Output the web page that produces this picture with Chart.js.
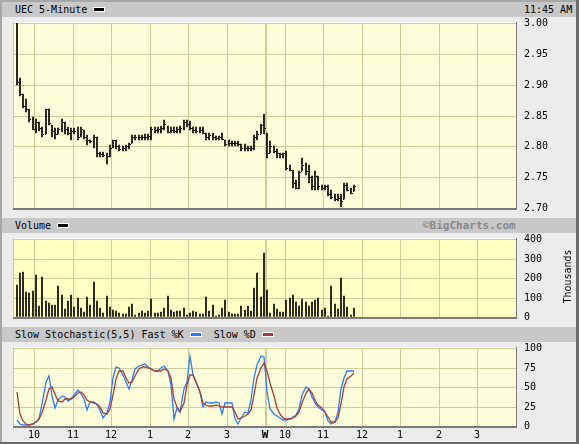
<!DOCTYPE html>
<html>
<head>
<meta charset="utf-8">
<script src="https://cdn.jsdelivr.net/npm/chart.js@4.4.1/dist/chart.umd.min.js"></script>
<style>
  body { margin: 0; background: #fff; }
  #frame { position: relative; width: 579px; height: 444px; background: #ececec; overflow: hidden;
           font-family: "DejaVu Sans Mono", monospace; font-size: 10px; color: #000; }
  .hdr { position: absolute; left: 2px; width: 574px; height: 15px; line-height: 15px; background: #c8c8c8; }
  .hdr span.t { position: absolute; top: 0; white-space: pre; }
  .sw { display: inline-block; width: 10px; height: 3px; border: 1px solid #fff; vertical-align: middle; margin-top: -2px; }
  canvas { position: absolute; left: 0; }
  .edge { position: absolute; }
  #thousands { position: absolute; left: 537px; top: 271px; width: 60px; text-align: center; transform: rotate(-90deg); }
</style>
</head>
<body>
<div id="frame">
  <div class="hdr" style="top:2px"><span class="t" style="left:13px">UEC 5-Minute <span class="sw" style="background:#000"></span></span><span class="t" style="left:522px">11:45 AM</span></div>
  <div class="hdr" style="top:218px"><span class="t" style="left:13px">Volume <span class="sw" style="background:#000"></span></span><span class="t" style="left:421px;font-weight:bold;font-size:11px;color:#8a8a8a">©BigCharts.com</span></div>
  <div class="hdr" style="top:327px"><span class="t" style="left:13px">Slow Stochastic(5,5) Fast %K <span class="sw" style="background:#2a7cff"></span>  Slow %D <span class="sw" style="background:#a83c3c"></span></span></div>

  <canvas id="priceChart" width="579" height="204" style="top:12px"></canvas>
  <canvas id="volumeChart" width="579" height="94" style="top:233px"></canvas>
  <canvas id="stochChart" width="579" height="102" style="top:342px"></canvas>
  <div id="thousands">Thousands</div>

  <div class="edge" style="left:0;top:0;width:579px;height:2px;background:#a8a8a8"></div>
  <div class="edge" style="left:0;top:0;width:2px;height:444px;background:#a8a8a8"></div>
  <div class="edge" style="left:576px;top:0;width:3px;height:444px;background:#6a6a6a"></div>
  <div class="edge" style="left:0;top:442px;width:579px;height:2px;background:#6a6a6a"></div>
</div>

<script>
// two sessions of 78 five-minute slots; bar i sits in slot i
const hourSlots = [6, 18, 30, 42, 54, 66, 78, 84, 96, 108, 120, 132, 144];
const hourLabels = ["10", "11", "12", "1", "2", "3", "W", "10", "11", "12", "1", "2", "3"];
const dayBreak = 78;

const opens = [
  2.98, 2.905, 2.885, 2.865, 2.86, 2.845, 2.83, 2.838, 2.83, 2.82,
  2.86, 2.835, 2.825, 2.82, 2.83, 2.838, 2.828, 2.822, 2.825, 2.826,
  2.818, 2.826, 2.815, 2.81, 2.806, 2.815, 2.79, 2.788, 2.786, 2.785,
  2.80, 2.81, 2.80, 2.795, 2.796, 2.80, 2.805, 2.815, 2.815, 2.815,
  2.815, 2.815, 2.815, 2.828, 2.826, 2.826, 2.83, 2.832, 2.825, 2.826,
  2.825, 2.828, 2.83, 2.84, 2.836, 2.83, 2.826, 2.825, 2.826, 2.82,
  2.815, 2.818, 2.815, 2.814, 2.815, 2.81, 2.805, 2.805, 2.805, 2.805,
  2.803, 2.797, 2.797, 2.797, 2.797, 2.815, 2.82, 2.835,
  2.82, 2.79, 2.80, 2.792, 2.79, 2.788, 2.789, 2.765, 2.76, 2.74,
  2.733, 2.76, 2.77, 2.76, 2.75, 2.735, 2.75, 2.735, 2.733, 2.735,
  2.722, 2.718, 2.714, 2.716, 2.714, 2.738, 2.73, 2.728
];
const highs = [
  3.00, 2.91, 2.885, 2.877, 2.86, 2.848, 2.845, 2.84, 2.832, 2.86,
  2.86, 2.835, 2.83, 2.83, 2.845, 2.84, 2.832, 2.83, 2.83, 2.832,
  2.832, 2.826, 2.818, 2.81, 2.818, 2.815, 2.791, 2.791, 2.79, 2.802,
  2.811, 2.811, 2.802, 2.801, 2.802, 2.806, 2.819, 2.819, 2.819, 2.819,
  2.82, 2.82, 2.831, 2.831, 2.831, 2.833, 2.842, 2.833, 2.831, 2.831,
  2.831, 2.833, 2.842, 2.842, 2.841, 2.831, 2.831, 2.831, 2.831, 2.821,
  2.821, 2.822, 2.817, 2.817, 2.821, 2.811, 2.811, 2.808, 2.808, 2.808,
  2.803, 2.803, 2.80, 2.80, 2.819, 2.825, 2.836, 2.853,
  2.822, 2.808, 2.80, 2.795, 2.79, 2.79, 2.792, 2.77, 2.762, 2.746,
  2.76, 2.781, 2.773, 2.77, 2.752, 2.76, 2.752, 2.737, 2.737, 2.737,
  2.73, 2.722, 2.722, 2.722, 2.741, 2.741, 2.733, 2.737
];
const lows = [
  2.90, 2.882, 2.862, 2.855, 2.84, 2.826, 2.822, 2.825, 2.815, 2.82,
  2.835, 2.815, 2.812, 2.82, 2.824, 2.82, 2.818, 2.81, 2.82, 2.81,
  2.815, 2.812, 2.802, 2.805, 2.798, 2.782, 2.783, 2.783, 2.771, 2.783,
  2.798, 2.795, 2.792, 2.792, 2.792, 2.795, 2.805, 2.811, 2.811, 2.811,
  2.811, 2.811, 2.811, 2.821, 2.821, 2.821, 2.826, 2.821, 2.821, 2.821,
  2.821, 2.821, 2.826, 2.831, 2.826, 2.821, 2.821, 2.821, 2.82, 2.811,
  2.811, 2.811, 2.811, 2.811, 2.811, 2.80, 2.80, 2.80, 2.80, 2.80,
  2.792, 2.792, 2.792, 2.792, 2.794, 2.811, 2.82, 2.82,
  2.781, 2.789, 2.789, 2.781, 2.781, 2.781, 2.761, 2.76, 2.733, 2.731,
  2.731, 2.76, 2.754, 2.741, 2.73, 2.73, 2.73, 2.73, 2.73, 2.719,
  2.714, 2.711, 2.711, 2.702, 2.714, 2.727, 2.722, 2.727
];
const closes = [
  2.905, 2.885, 2.865, 2.86, 2.845, 2.828, 2.84, 2.83, 2.82, 2.86,
  2.838, 2.825, 2.82, 2.828, 2.84, 2.828, 2.822, 2.825, 2.825, 2.815,
  2.828, 2.815, 2.81, 2.808, 2.815, 2.79, 2.788, 2.786, 2.785, 2.798,
  2.81, 2.80, 2.795, 2.798, 2.80, 2.804, 2.815, 2.815, 2.815, 2.815,
  2.815, 2.816, 2.828, 2.826, 2.828, 2.83, 2.836, 2.824, 2.826, 2.825,
  2.828, 2.83, 2.84, 2.836, 2.83, 2.826, 2.825, 2.826, 2.822, 2.815,
  2.818, 2.815, 2.814, 2.815, 2.812, 2.803, 2.805, 2.805, 2.805, 2.803,
  2.797, 2.797, 2.797, 2.797, 2.815, 2.82, 2.835, 2.83,
  2.79, 2.80, 2.792, 2.79, 2.788, 2.789, 2.765, 2.762, 2.74, 2.733,
  2.758, 2.77, 2.76, 2.75, 2.735, 2.752, 2.735, 2.732, 2.735, 2.722,
  2.718, 2.714, 2.716, 2.712, 2.738, 2.73, 2.725, 2.735
];
// thousands of shares
const volumes = [
  165, 228, 233, 129, 124, 134, 217, 57, 207, 81,
  74, 59, 62, 160, 114, 41, 83, 112, 53, 98,
  48, 28, 103, 62, 181, 84, 47, 22, 109, 53,
  36, 31, 19, 16, 16, 52, 67, 10, 22, 29,
  22, 29, 93, 21, 21, 28, 47, 109, 36, 28,
  29, 31, 47, 9, 19, 31, 26, 17, 14, 103,
  31, 62, 7, 12, 45, 88, 24, 16, 16, 16,
  57, 36, 57, 31, 147, 228, 103, 326, 140, 22,
  67, 41, 28, 26, 88, 95, 112, 78, 57, 93,
  79, 57, 78, 88, 98, 36, 48, 7, 160, 67,
  43, 202, 109, 52, 12, 48
];
const fastK = [
  8, 3, 1, 1, 1, 2, 5, 9, 28, 56,
  64, 38, 23, 33, 38, 37, 32, 34, 40, 46,
  41, 35, 21, 31, 31, 27, 20, 10, 17, 31,
  61, 76, 74, 65, 57, 48, 59, 73, 77, 78,
  79, 76, 73, 70, 70, 74, 77, 70, 52, 9,
  23, 18, 48, 57, 90, 65, 57, 44, 25, 31,
  29, 29, 31, 30, 16, 29, 29, 29, 9, 2,
  10, 18, 17, 33, 61, 78, 90, 89,
  45, 22, 16, 13, 10, 8, 8, 9, 11, 14,
  22, 40, 50, 47, 37, 29, 25, 21, 18, 7,
  2, 5, 18, 48, 62, 70, 70, 70
];
const slowD = [
  44, 16, 6, 2, 1, 2, 5, 9, 17, 33,
  48, 50, 41, 32, 31, 34, 35, 34, 37, 42,
  44, 40, 33, 31, 30, 28, 24, 17, 16, 22,
  40, 60, 71, 70, 62, 55, 56, 64, 73, 76,
  76, 75, 73, 71, 70, 71, 73, 71, 61, 35,
  24, 18, 29, 52, 66, 66, 56, 43, 30, 27,
  26, 26, 27, 26, 24, 24, 24, 24, 18, 9,
  10, 13, 15, 20, 40, 61, 74, 81,
  70, 55, 38, 23, 15, 10, 9, 9, 10, 13,
  18, 30, 42, 47, 42, 33, 27, 23, 18, 12,
  5, 5, 10, 28, 50, 60, 64, 68
];

const GRID = "#cdcd98";
const slotX = (i) => i + 0.5;

Chart.defaults.font.family = "'DejaVu Sans Mono', monospace";
Chart.defaults.font.size = 10;
Chart.defaults.color = "#000";

function plotPattern(ctx) {
  const c = document.createElement("canvas");
  c.width = 2; c.height = 2;
  const g = c.getContext("2d");
  g.fillStyle = "#ffffc4"; g.fillRect(0, 0, 2, 2);
  g.fillStyle = "#ffffdc"; g.fillRect(0, 0, 1, 1); g.fillRect(1, 1, 1, 1);
  return ctx.createPattern(c, "repeat");
}

const panelFrame = {
  id: "panelFrame",
  beforeDraw(chart) {
    const { ctx, chartArea: a } = chart;
    ctx.save();
    ctx.fillStyle = plotPattern(ctx);
    ctx.fillRect(a.left, a.top, a.right - a.left, a.bottom - a.top);
    ctx.restore();
  },
  afterDraw(chart) {
    const { ctx, chartArea: a } = chart;
    ctx.save();
    ctx.fillStyle = "#ffffff";
    ctx.fillRect(a.left, a.top - 1, a.right - a.left, 1);
    ctx.fillStyle = "#c4c4c4";
    ctx.fillRect(a.left - 1, a.top - 1, 1, a.bottom - a.top + 1);
    ctx.fillStyle = "#7a7a7a";
    ctx.fillRect(a.left - 1, a.bottom, a.right - a.left + 2, 2);
    ctx.fillRect(a.right, a.top - 1, 1, a.bottom - a.top + 1);
    ctx.restore();
  },
};

// open tick on the left, close tick on the right of each high-low bar
const ohlcTicks = {
  id: "ohlcTicks",
  afterDatasetsDraw(chart) {
    const { ctx, scales: { x, y } } = chart;
    ctx.save();
    ctx.fillStyle = "#000";
    opens.forEach((o, i) => {
      const px = Math.floor(x.getPixelForValue(slotX(i)));
      ctx.fillRect(px - 1, Math.round(y.getPixelForValue(o) - 0.5), 1, 1);
      ctx.fillRect(px + 1, Math.round(y.getPixelForValue(closes[i]) - 0.5), 1, 1);
    });
    ctx.restore();
  },
};

function noOverflow(axis) {
  axis.paddingTop = 0;
  axis.paddingBottom = 0;
  axis.paddingLeft = 0;
  axis.paddingRight = 0;
}

function xScale(showLabels) {
  const gridTicks = [];
  hourSlots.forEach((s) => {
    if (s === dayBreak) {
      gridTicks.push(s - 0.3, s, s + 0.3);
    } else {
      gridTicks.push(s);
    }
  });
  return {
    type: "linear",
    min: -0.31,
    max: 156,
    offset: false,
    alignToPixels: true,
    afterBuildTicks: (axis) => { axis.ticks = gridTicks.map((v) => ({ value: v })); },
    afterFit: (axis) => { axis.height = showLabels ? 18 : 0; noOverflow(axis); },
    grid: {
      offset: false,
      color: (ctx) => (ctx.tick && ctx.tick.value === dayBreak ? "rgba(0,0,0,0)" : GRID),
      drawTicks: false,
    },
    border: { display: false },
    ticks: {
      display: showLabels,
      autoSkip: false,
      maxRotation: 0,
      padding: 3,
      font: (ctx) => ({
        family: "'DejaVu Sans Mono', monospace",
        size: ctx.tick && ctx.tick.value === dayBreak ? 11 : 10,
        weight: ctx.tick && ctx.tick.value === dayBreak ? "bold" : "normal",
      }),
      callback: (v) => {
        const k = hourSlots.indexOf(v);
        return k >= 0 ? hourLabels[k] : "";
      },
    },
  };
}

function yScale(min, max, step, fmt) {
  return {
    position: "right",
    min, max,
    alignToPixels: true,
    afterFit: (axis) => { axis.width = 63; noOverflow(axis); },
    grid: { color: GRID, drawTicks: false },
    border: { display: false },
    ticks: { stepSize: step, padding: 8, callback: fmt },
  };
}

function baseOptions(padTop, padBottom, scales) {
  return {
    responsive: false,
    animation: false,
    devicePixelRatio: 1,
    layout: { padding: { left: 14, right: 0, top: padTop, bottom: padBottom } },
    plugins: { legend: { display: false }, tooltip: { enabled: false } },
    scales,
  };
}

new Chart(document.getElementById("priceChart"), {
  type: "bar",
  data: {
    datasets: [{
      data: highs.map((h, i) => ({ x: slotX(i), y: [lows[i], h] })),
      backgroundColor: "#000",
      barThickness: 1,
      borderWidth: 0,
    }],
  },
  options: baseOptions(11, 8, {
    x: xScale(false),
    y: yScale(2.70, 3.00, 0.05, (v) => Number(v).toFixed(2)),
  }),
  plugins: [panelFrame, ohlcTicks],
});

new Chart(document.getElementById("volumeChart"), {
  type: "bar",
  data: {
    datasets: [{
      data: volumes.map((v, i) => ({ x: slotX(i), y: v })),
      backgroundColor: "#000",
      barThickness: 1,
      borderWidth: 0,
    }],
  },
  options: baseOptions(6, 10, {
    x: xScale(false),
    y: yScale(0, 400, 100, (v) => v),
  }),
  plugins: [panelFrame],
});

new Chart(document.getElementById("stochChart"), {
  type: "line",
  data: {
    datasets: [
      {
        data: slowD.map((v, i) => ({ x: slotX(i), y: v })),
        borderColor: "#a83c3c",
        borderWidth: 1.3,
        pointRadius: 0,
        tension: 0,
      },
      {
        data: fastK.map((v, i) => ({ x: slotX(i), y: v })),
        borderColor: "#2a7cff",
        borderWidth: 1.3,
        pointRadius: 0,
        tension: 0,
      },
    ],
  },
  options: baseOptions(6, 0, {
    x: xScale(true),
    y: yScale(0, 100, 25, (v) => v),
  }),
  plugins: [panelFrame],
});
</script>
</body>
</html>
